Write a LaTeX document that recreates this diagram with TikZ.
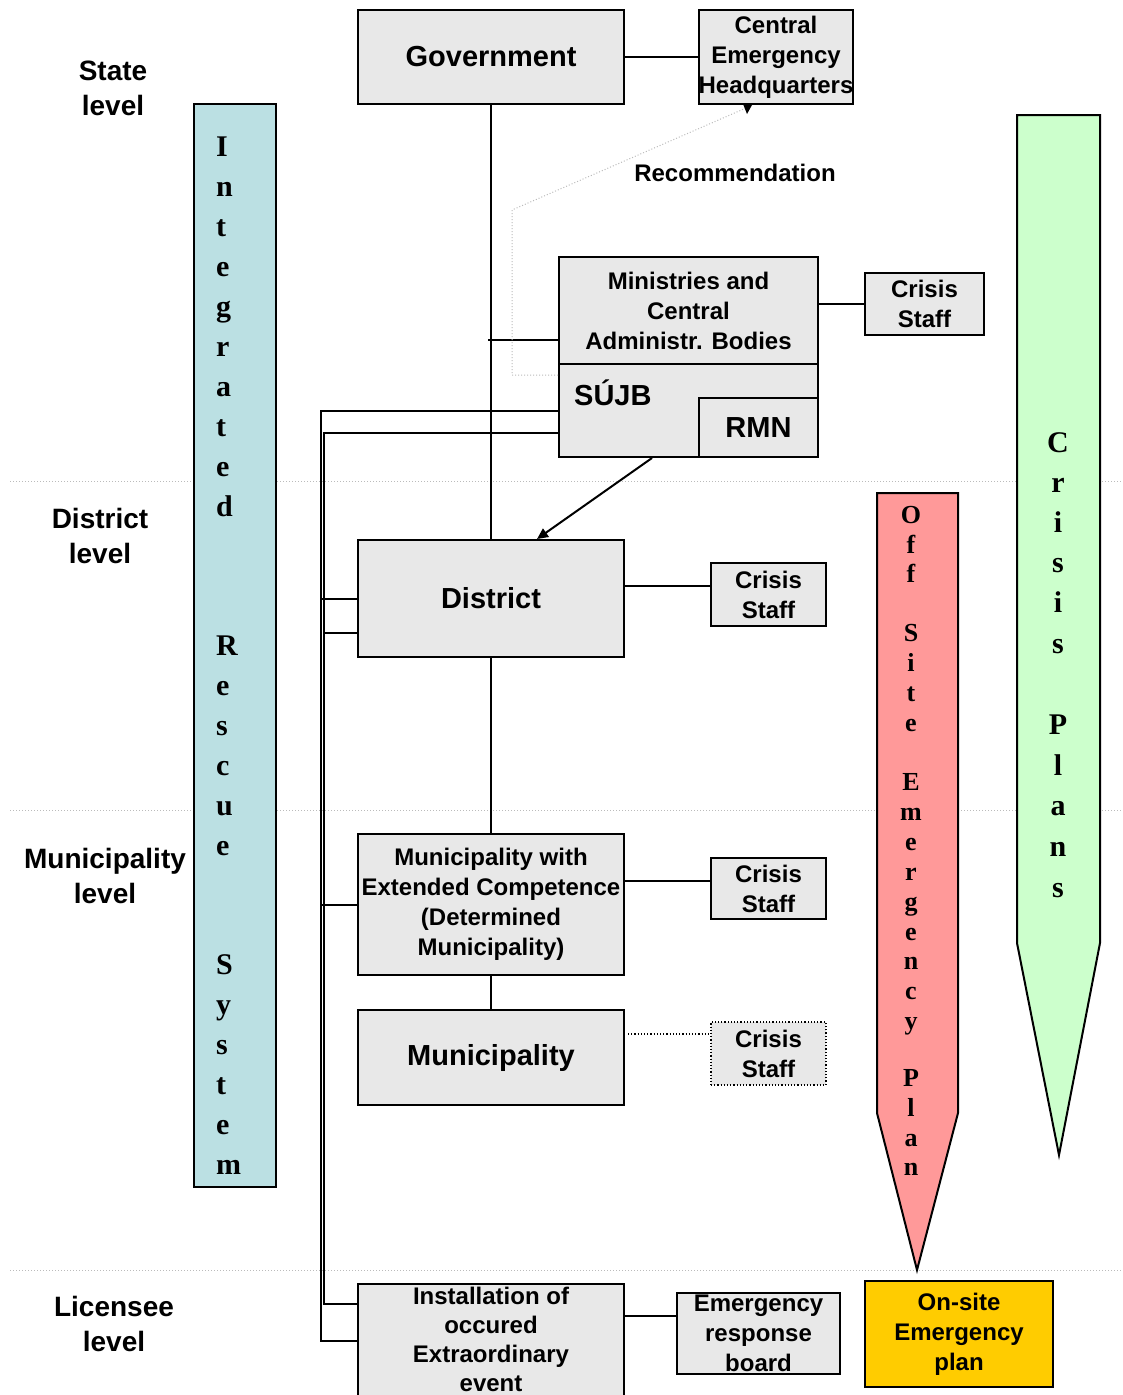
\documentclass[tikz,border=0pt]{standalone}
\usepackage{fontspec}
\setmainfont{Liberation Sans}
\newfontfamily\serifletters{Liberation Serif}
\usetikzlibrary{arrows.meta,calc}
\definecolor{boxgrey}{HTML}{E8E8E8}
\definecolor{irscol}{HTML}{BBE0E3}
\definecolor{offcol}{HTML}{FF9999}
\definecolor{plancol}{HTML}{CCFFCC}
\definecolor{onsitecol}{HTML}{FFCC00}
\definecolor{levgrey}{HTML}{BBBBBB}
\begin{document}
\begin{tikzpicture}[x=1pt,y=-1pt,
  box/.style={draw=black,line width=2pt,fill=boxgrey,align=center,inner sep=0pt,
    font=\bfseries\fontsize{24}{30}\selectfont},
  bigtext/.style={font=\bfseries\fontsize{29}{34}\selectfont},
  conn/.style={draw=black,line width=2pt},
  levelline/.style={draw=levgrey,line width=1pt,dotted},
  levellabel/.style={align=center,inner sep=0pt,font=\bfseries\fontsize{28}{35}\selectfont},
  irsletter/.style={anchor=base west,inner sep=0pt,font=\serifletters\bfseries\fontsize{30}{30}\selectfont},
  offletter/.style={anchor=base,inner sep=0pt,font=\serifletters\bfseries\fontsize{26}{26}\selectfont},
  planletter/.style={anchor=base,inner sep=0pt,font=\serifletters\bfseries\fontsize{30}{30}\selectfont},
  tip/.style={-{Triangle[length=11pt,width=10pt,color=black]}}
]
\useasboundingbox (0,0) rectangle (1122,1395);
\fill[white] (0,0) rectangle (1122,1395);

% level separators
\draw[levelline] (10,481) -- (1122,481);
\draw[levelline] (10,810) -- (1122,810);
\draw[levelline] (10,1270) -- (1122,1270);

% level labels
\node[levellabel] (lstate) at (113,88) {State\\level};
\node[levellabel] (ldist) at (100,536) {District\\level};
\node[levellabel] (lmuni) at (105,876) {Municipality\\level};
\node[levellabel] (llic) at (114,1324) {Licensee\\level};

% Integrated Rescue System column
\node[draw=black,line width=2pt,fill=irscol,minimum width=82,minimum height=1083,inner sep=0pt] (irs) at (235,645.5) {};
\foreach \l/\y in {I/156,n/196,t/236,e/276,g/316,r/356,a/396,t/436,e/476,d/516,
                   R/655,e/695,s/735,c/775,u/815,e/855,
                   S/974,y/1014,s/1054,t/1094,e/1134,m/1174}
  \node[irsletter] at (216,\y) {\l};

% Off Site Emergency Plan
\filldraw[fill=offcol,draw=black,line width=2pt,line join=miter] (877,493) -- (958,493) -- (958,1113) -- (917,1270) -- (877,1113) -- cycle;
\foreach \l/\y in {O/523,f/553,f/582,S/641,i/671,t/701,e/731,E/790,m/820,e/850,r/880,g/910,e/940,n/969,c/999,y/1029,P/1086,l/1116,a/1146,n/1175}
  \node[offletter] at (911,\y) {\l};

% Crisis Plans
\filldraw[fill=plancol,draw=black,line width=2pt,line join=miter] (1017,115) -- (1100,115) -- (1100,943) -- (1059,1155) -- (1017,943) -- cycle;
\foreach \l/\y in {C/452,r/492,i/532,s/572,i/612,s/653,P/734,l/775,a/815,n/856,s/897}
  \node[planletter] at (1058,\y) {\l};

% boxes
\node[box,bigtext,minimum width=266,minimum height=94] (gov) at (491,57) {Government};
\node[box,minimum width=154,minimum height=94] (ceh) at (776,57) {Central\\Emergency\\Headquarters};
\node[box,minimum width=259,minimum height=107] (min) at (688.5,310.5) {Ministries and\\Central\\Administr. Bodies};
\node[box,minimum width=259,minimum height=93] (sujb) at (688.5,410.5) {};
\node[bigtext,anchor=west,inner sep=0pt] (sujbt) at (574,393) {SÚJB};
\node[box,bigtext,minimum width=119,minimum height=59] (rmn) at (758.5,427.5) {RMN};
\node[box,minimum width=119,minimum height=62] (cs1) at (924.5,304) {Crisis\\Staff};
\node[font=\bfseries\fontsize{24}{30}\selectfont,inner sep=0pt] (rec) at (735,173) {Recommendation};

\node[box,bigtext,minimum width=266,minimum height=117] (dist) at (491,598.5) {District};
\node[box,minimum width=115,minimum height=63] (cs2) at (768.5,594.5) {Crisis\\Staff};

\node[box,minimum width=266,minimum height=141] (mext) at (491,904.5) {Municipality with\\Extended Competence\\(Determined\\Municipality)};
\node[box,minimum width=115,minimum height=61] (cs3) at (768.5,888.5) {Crisis\\Staff};

\node[box,bigtext,minimum width=266,minimum height=95] (muni) at (491,1057.5) {Municipality};
\node[box,minimum width=115,minimum height=63,line width=1.2pt,dotted] (cs4) at (768.5,1053.5) {Crisis\\Staff};

\node[box,minimum width=266,minimum height=116] (inst) at (491,1342) {};
\node[align=center,inner sep=0pt,font=\bfseries\fontsize{24}{29}\selectfont] (instt) at (491,1339) {Installation of\\occured\\Extraordinary\\event};
\node[box,minimum width=163,minimum height=81] (erb) at (758.5,1333.5) {Emergency\\response\\board};
\node[box,fill=onsitecol,minimum width=188,minimum height=106] (onsite) at (959,1334) {On-site\\Emergency\\plan};

% connectors
\draw[conn] (gov.east) -- (ceh.west);
\draw[conn] (gov.south) -- (dist.north);
\draw[conn] (dist.south) -- (mext.north);
\draw[conn] (mext.south) -- (muni.north);
\coordinate (stub) at (488,340);
\draw[conn] (stub) -- (stub -| min.west);
\draw[conn] (cs1.west -| min.east) -- (cs1.west);

% recommendation (dotted)
\coordinate (r0) at ([yshift=35.5pt]sujb.west);
\coordinate (r1) at (512,375);
\coordinate (r2) at (512,210);
\coordinate (rtip) at ([xshift=-24pt]ceh.south);
\draw[levgrey,line width=1pt,dotted] (r0) -- (r1) -- (r2) -- ([xshift=-6pt,yshift=-3pt]rtip);
\fill[black] (rtip) -- ++(-9,-1) -- ++(4,10) -- cycle;

% SUJB -> District
\draw[conn,tip] ([xshift=-36.5pt]sujb.south) -- ([xshift=46pt]dist.north);

% left bus lines
\coordinate (L1top) at (321,410.5);
\coordinate (L1bot) at (321,1341);
\coordinate (L2top) at (323.5,433);
\coordinate (L2bot) at (323.5,1304);
\draw[conn] (sujb.west) -- (L1top) -- (L1bot) -- (L1bot -| inst.west);
\draw[conn] (L2top -| sujb.west) -- (L2top) -- (L2bot) -- (L2bot -| inst.west);
\draw[conn] (dist.west -| L1top) -- (dist.west);
\coordinate (d2) at ([yshift=-34.5pt]dist.west);
\draw[conn] (d2 -| L2top) -- (d2);
\draw[conn] (mext.west -| L1top) -- (mext.west);

% crisis staff links
\coordinate (c2) at ([yshift=8.5pt]cs2.west);
\draw[conn] (c2 -| dist.east) -- (c2);
\coordinate (c3) at ([yshift=7.5pt]cs3.west);
\draw[conn] (c3 -| mext.east) -- (c3);
\coordinate (c4) at ([yshift=19.5pt]cs4.west);
\draw[black,line width=1.2pt,dotted] ([xshift=3pt]c4 -| muni.east) -- (c4);
\coordinate (c5) at ([yshift=17.5pt]erb.west);
\draw[conn] ([xshift=-2pt]c5 -| inst.east) -- (c5);
\end{tikzpicture}
\end{document}
